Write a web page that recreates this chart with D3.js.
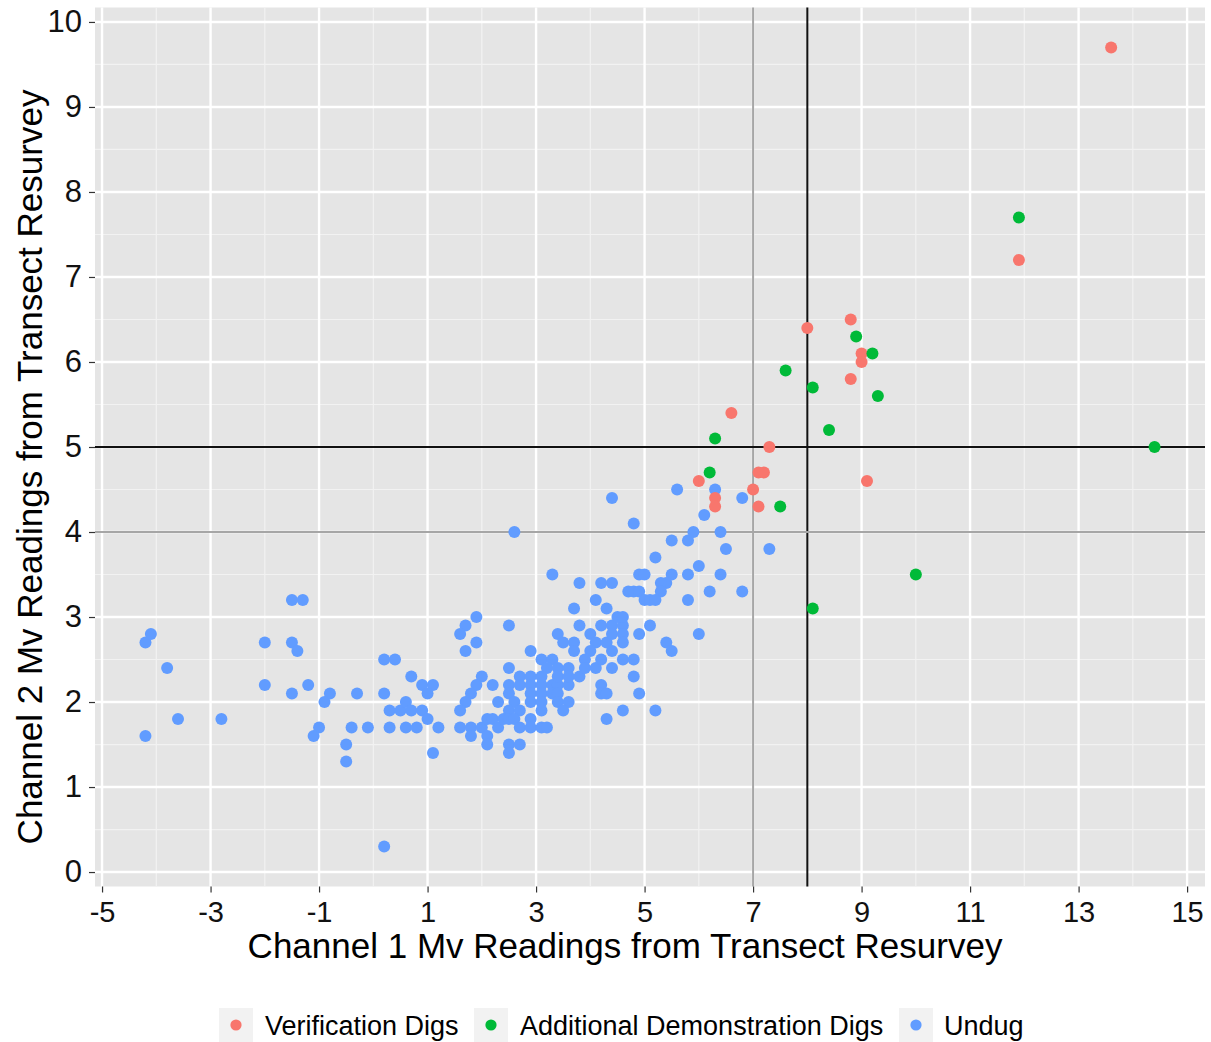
<!DOCTYPE html>
<html><head><meta charset="utf-8">
<script src="https://cdn.jsdelivr.net/npm/d3@7"></script>
<style>body{margin:0;background:#fff}text{font-family:"Liberation Sans",Arial,Helvetica,sans-serif}</style>
</head><body>
<svg id="c" width="1211" height="1042"></svg>
<script>
// ---- data ----
const categories = ["Verification Digs", "Additional Demonstration Digs", "Undug"];
const categoryColors = ["#F8766D", "#00BA38", "#619CFF"];

const verificationPoints = [
  [13.6,9.7],[11.9,7.2],[8.0,6.4],[8.8,6.5],[9.0,6.1],[9.0,6.0],[8.8,5.8],[6.6,5.4],
  [7.3,5.0],[6.0,4.6],[6.3,4.4],[6.3,4.3],[7.1,4.7],[7.2,4.7],[7.0,4.5],[7.1,4.3],[9.1,4.6]
];
const demonstrationPoints = [
  [11.9,7.7],[8.9,6.3],[9.2,6.1],[7.6,5.9],[8.1,5.7],[9.3,5.6],[8.4,5.2],[6.3,5.1],
  [6.2,4.7],[7.5,4.3],[14.4,5.0],[10.0,3.5],[8.1,3.1]
];
const undugPoints = [
  [-4.2,2.7],[-4.1,2.8],[-3.8,2.4],[-3.6,1.8],[-4.2,1.6],[-2.8,1.8],
  [-2.0,2.7],[-2.0,2.2],[-1.5,3.2],[-1.3,3.2],[-1.5,2.7],[-1.4,2.6],[-1.5,2.1],[-1.2,2.2],
  [-1.0,1.7],[-1.1,1.6],[-0.8,2.1],[-0.9,2.0],[-0.4,1.7],[-0.1,1.7],[-0.3,2.1],
  [-0.5,1.5],[-0.5,1.3],
  [0.2,2.5],[0.4,2.5],[0.2,2.1],[0.3,1.9],[0.5,1.9],[0.6,2.0],[0.3,1.7],[0.6,1.7],[0.2,0.3],
  [0.7,2.3],[0.9,2.2],[1.1,2.2],[1.0,2.1],[0.7,1.9],[0.9,1.9],[1.0,1.8],[0.8,1.7],[1.2,1.7],[1.1,1.4],
  [1.9,3.0],[1.7,2.9],[1.6,2.8],[1.9,2.7],[1.7,2.6],
  [2.0,2.3],[1.9,2.2],[1.8,2.1],[1.7,2.0],[1.6,1.9],
  [1.6,1.7],[1.8,1.7],[2.0,1.7],[1.8,1.6],
  [2.5,2.9],[2.9,2.6],[2.5,2.4],
  [2.2,2.2],[2.5,2.2],[2.7,2.3],[2.9,2.3],
  [2.7,2.2],[2.9,2.2],[3.1,2.2],[3.3,2.2],[3.4,2.2],[3.6,2.2],
  [2.3,2.0],[2.5,2.1],[2.6,2.0],[2.5,1.9],[2.7,1.9],[2.9,2.1],[2.9,2.0],[3.1,2.1],[3.1,2.0],[3.1,1.9],
  [3.3,2.1],[3.4,2.1],[3.4,2.0],[3.6,2.0],[3.5,1.9],
  [2.1,1.8],[2.2,1.8],[2.3,1.7],[2.4,1.8],[2.5,1.8],
  [2.1,1.6],[2.1,1.5],
  [2.6,1.8],[2.7,1.7],[2.9,1.8],[2.9,1.7],[3.1,1.7],[3.2,1.7],
  [2.5,1.5],[2.7,1.5],[2.5,1.4],
  [3.1,2.5],[3.3,2.5],[3.4,2.4],[3.2,2.4],[3.6,2.4],[3.1,2.3],[3.4,2.3],[3.6,2.3],[3.8,2.3],
  [4.1,2.4],[4.4,2.4],[4.8,2.3],
  [3.4,2.8],[3.5,2.7],[3.7,2.7],[3.7,2.6],
  [3.8,2.9],[4.0,2.8],[4.2,2.9],[4.4,2.9],[4.6,2.9],
  [4.1,2.7],[4.3,2.7],[4.4,2.8],[4.6,2.8],[4.6,2.7],
  [4.0,2.6],[4.2,2.5],[4.4,2.6],[3.9,2.5],[3.9,2.4],[4.6,2.5],[4.8,2.5],
  [4.2,2.2],[4.2,2.1],[4.3,2.1],[4.9,2.1],[4.6,1.9],[4.3,1.8],[5.2,1.9],
  [3.7,3.1],[4.1,3.2],[4.3,3.1],[4.5,3.0],[4.6,3.0],
  [4.4,4.4],[4.8,4.1],[2.6,4.0],[3.3,3.5],[3.8,3.4],[4.2,3.4],[4.4,3.4],[4.9,3.5],[5.0,3.5],
  [4.7,3.3],[4.8,3.3],[4.9,3.3],
  [5.6,4.5],[6.3,4.5],[6.8,4.4],[6.1,4.2],[5.9,4.0],[5.8,3.9],[5.5,3.9],[6.4,4.0],[6.5,3.8],[7.3,3.8],
  [5.2,3.7],[6.0,3.6],[5.5,3.5],[5.8,3.5],[6.4,3.5],[5.4,3.4],[5.3,3.4],[5.3,3.3],
  [5.0,3.2],[5.1,3.2],[5.2,3.2],[5.8,3.2],[6.2,3.3],[6.8,3.3],
  [5.1,2.9],[4.9,2.8],[6.0,2.8],[5.4,2.7],[5.5,2.6]
];
const seriesPoints = [verificationPoints, demonstrationPoints, undugPoints];

const xTickValues = [-5,-3,-1,1,3,5,7,9,11,13,15];
const xMinorValues = [-4,-2,0,2,4,6,8,10,12,14];
const yTickValues = [0,1,2,3,4,5,6,7,8,9,10];
const yMinorValues = [0.5,1.5,2.5,3.5,4.5,5.5,6.5,7.5,8.5,9.5];
const refLinesX = [{v:7, c:"#a6a6a6"}, {v:8, c:"#111"}];
const refLinesY = [{v:4, c:"#a6a6a6"}, {v:5, c:"#111"}];
const xTitle = "Channel 1 Mv Readings from Transect Resurvey";
const yTitle = "Channel 2 Mv Readings from Transect Resurvey";

// ---- layout ----
const P = {left:95, right:1205, top:7.5, bottom:886.5};
const svg = d3.select("#c");
const x = d3.scaleLinear().domain([-5.13, 15.33]).range([P.left, P.right]);
const y = d3.scaleLinear().domain([-0.17, 10.17]).range([P.bottom, P.top]);

svg.append("rect").attr("x",P.left).attr("y",P.top)
  .attr("width",P.right-P.left).attr("height",P.bottom-P.top).attr("fill","#e5e5e5");

const g = svg.append("g");
// minor grid
g.selectAll(".mx").data(xMinorValues).join("line")
  .attr("x1",d=>x(d)).attr("x2",d=>x(d)).attr("y1",P.top).attr("y2",P.bottom)
  .attr("stroke","#f2f2f2").attr("stroke-width",1.2);
g.selectAll(".my").data(yMinorValues).join("line")
  .attr("y1",d=>y(d)).attr("y2",d=>y(d)).attr("x1",P.left).attr("x2",P.right)
  .attr("stroke","#f2f2f2").attr("stroke-width",1.2);
// major grid
g.selectAll(".Mx").data(xTickValues).join("line")
  .attr("x1",d=>x(d)).attr("x2",d=>x(d)).attr("y1",P.top).attr("y2",P.bottom)
  .attr("stroke","#fff").attr("stroke-width",2.4);
g.selectAll(".My").data(yTickValues).join("line")
  .attr("y1",d=>y(d)).attr("y2",d=>y(d)).attr("x1",P.left).attr("x2",P.right)
  .attr("stroke","#fff").attr("stroke-width",2.4);

// reference lines
g.selectAll(".rx").data(refLinesX).join("line")
  .attr("x1",d=>x(d.v)).attr("x2",d=>x(d.v)).attr("y1",P.top).attr("y2",P.bottom)
  .attr("stroke",d=>d.c).attr("stroke-width",2);
g.selectAll(".ry").data(refLinesY).join("line")
  .attr("y1",d=>y(d.v)).attr("y2",d=>y(d.v)).attr("x1",P.left).attr("x2",P.right)
  .attr("stroke",d=>d.c).attr("stroke-width",2);

// points: undug first, then digs
[2,0,1].forEach(i=>{
  svg.append("g").selectAll("circle").data(seriesPoints[i]).join("circle")
    .attr("cx",d=>x(d[0])).attr("cy",d=>y(d[1])).attr("r",6)
    .attr("fill",categoryColors[i]);
});

// axes
const xAxis = d3.axisBottom(x).tickValues(xTickValues).tickSize(6).tickPadding(9).tickFormat(d3.format("d"));
const xa = svg.append("g").attr("transform",`translate(0,${P.bottom})`).call(xAxis);
xa.select(".domain").remove();
xa.selectAll(".tick line").attr("stroke","#333").attr("stroke-width",1.2);
xa.selectAll(".tick text").attr("font-size",29).attr("fill","#111")
  .attr("font-family","Liberation Sans, Arial, sans-serif").text(d=>d<0?"-"+Math.abs(d):d);

const yAxis = d3.axisLeft(y).tickValues(yTickValues).tickSize(6).tickPadding(7).tickFormat(d3.format("d"));
const ya = svg.append("g").attr("transform",`translate(${P.left},0)`).call(yAxis);
ya.select(".domain").remove();
ya.selectAll(".tick line").attr("stroke","#333").attr("stroke-width",1.2);
ya.selectAll(".tick text").attr("font-size",31).attr("fill","#111")
  .attr("font-family","Liberation Sans, Arial, sans-serif");

// titles
svg.append("text").attr("x",625).attr("y",958).attr("text-anchor","middle")
  .attr("font-size",35).attr("fill","#000").text(xTitle);
svg.append("text").attr("transform","translate(42,467) rotate(-90)").attr("text-anchor","middle")
  .attr("font-size",35).attr("fill","#000").text(yTitle);

// legend
const legendKeyCenterX = [236, 491, 916];
const legendTextX = [265, 520, 944];
const lg = svg.append("g");
categories.forEach((c,i)=>{
  lg.append("rect").attr("x",legendKeyCenterX[i]-17).attr("y",1008).attr("width",34).attr("height",34).attr("fill","#f2f2f2");
  lg.append("circle").attr("cx",legendKeyCenterX[i]).attr("cy",1025).attr("r",5.6).attr("fill",categoryColors[i]);
  lg.append("text").attr("x",legendTextX[i]).attr("y",1035).attr("font-size",27).attr("fill","#000").text(c);
});
</script>
</body></html>
